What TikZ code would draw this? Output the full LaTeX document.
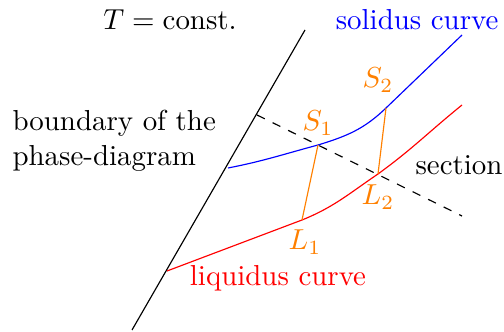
\documentclass[tikz,border=0pt]{standalone}
\usepackage{amsmath}
\usetikzlibrary{calc}

\begin{document}
\begin{tikzpicture}[
  x=0.346pt, y=-0.346pt,
  tieline/.style={draw=orange, thin},
  label/.style={inner sep=1pt, text=orange},
  caption/.style={inner sep=0pt}
]
\useasboundingbox (0,0) rectangle (504,332);
% boundary of the phase diagram
\coordinate (bdLow) at (132,330);
\coordinate (bdHigh) at (305,30);
\draw (bdLow) -- (bdHigh);
% points on the curves
\coordinate (sStart) at (228,168);
\coordinate (S1) at (318,145);
\coordinate (S2) at (386,108);
\coordinate (sEnd) at (462,35);
\coordinate (lStart) at (167,271);
\coordinate (L1) at (302,220);
\coordinate (L2) at (378,174);
\coordinate (lEnd) at (462,105);
\coordinate (secStart) at (257,115);
\coordinate (secEnd) at (462,216);
% section
\draw[dashed] (secStart) -- (secEnd);
% solidus and liquidus
\draw[blue] (sStart) to[out=11,in=195] (S1) to[out=17,in=224] (S2) -- (sEnd);
\draw[red] (lStart) -- (L1) to[out=22,in=214] (L2) to[out=36,in=219] (lEnd);
% tie lines
\draw[tieline] (S1) -- (L1);
\draw[tieline] (S2) -- (L2);
% labels
\node[label] at (318,123) {$S_1$};
\node[label] at (378,80) {$S_2$};
\node[label] at (305,242) {$L_1$};
\node[label] at (378,197) {$L_2$};
\node at (170,20) {$T=\text{const.}$};
\node[caption, text=blue, anchor=east] at (499,20) {solidus curve};
\node[caption, text=red] at (278,278) {liquidus curve};
\node[caption, anchor=west] at (415,165) {section};
\node[caption, anchor=west, align=left] at (12,141) {boundary of the\\phase-diagram};
\end{tikzpicture}
\end{document}
